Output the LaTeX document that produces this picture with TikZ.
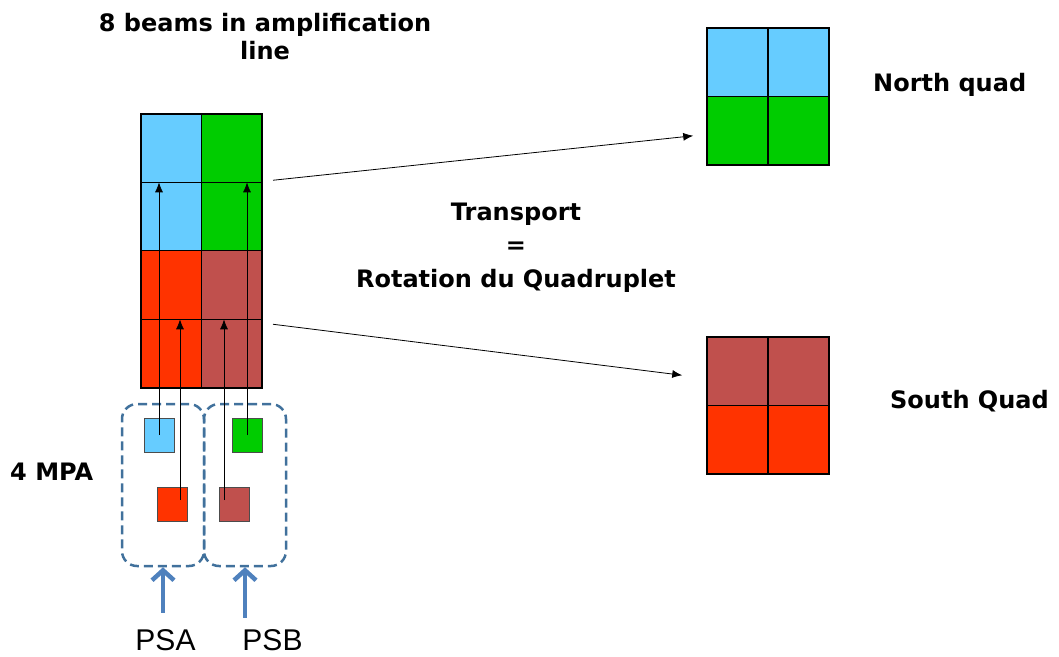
\documentclass[tikz,border=0pt]{standalone}
\usepackage{fontspec}
\setmainfont{Liberation Sans}
\newfontfamily\labelfont{DejaVu Sans}
\usetikzlibrary{arrows.meta}
\definecolor{beamblue}{HTML}{66CCFF}
\definecolor{beamgreen}{HTML}{00CC00}
\definecolor{beamred}{HTML}{FF3300}
\definecolor{beambrown}{HTML}{C0504D}
\definecolor{boxblue}{HTML}{41719C}
\definecolor{feedblue}{HTML}{4F81BD}
\tikzset{
  cell/.style={draw, line width=0.8pt, minimum width=60.5pt, minimum height=68.5pt, inner sep=0pt, outer sep=0pt},
  mpa/.style={draw=black!70, line width=0.6pt, minimum width=30pt, minimum height=34pt, inner sep=0pt},
  group/.style={draw=boxblue, line width=2.5pt, dash pattern=on 9pt off 5pt, rounded corners=15pt, minimum width=82pt, minimum height=162pt},
  beam/.style={line width=0.8pt, -{Latex[length=10pt,width=8pt]}},
  feed/.style={draw=feedblue, line width=4.5pt, -{Straight Barb[length=10pt,width=22pt]}},
  bold/.style={font=\labelfont\bfseries\fontsize{24}{28}\selectfont, inner sep=0pt},
}
\begin{document}
\begin{tikzpicture}[x=1pt,y=-1pt]
\useasboundingbox (0,0) rectangle (1059,656);
% amplification line
\node[cell, fill=beamblue] (b0) at (171.25,148){};
\node[cell, fill=beamgreen] (b1) at (231.75,148){};
\node[cell, fill=beamblue] (b2) at (171.25,216.5){};
\node[cell, fill=beamgreen] (b3) at (231.75,216.5){};
\node[cell, fill=beamred] (b4) at (171.25,285){};
\node[cell, fill=beambrown] (b5) at (231.75,285){};
\node[cell, fill=beamred] (b6) at (171.25,353.5){};
\node[cell, fill=beambrown] (b7) at (231.75,353.5){};
\draw[line width=2.4pt] (b0.north west) rectangle (b7.south east);
% north quad
\node[cell, fill=beamblue] (n0) at (737.5,62.25){};
\node[cell, fill=beamblue] (n1) at (798.5,62.25){};
\node[cell, fill=beamgreen] (n2) at (737.5,130.75){};
\node[cell, fill=beamgreen] (n3) at (798.5,130.75){};
\draw[line width=2.4pt] (n0.north west) rectangle (n3.south east);
% south quad
\node[cell, fill=beambrown] (s0) at (737.5,371.25){};
\node[cell, fill=beambrown] (s1) at (798.5,371.25){};
\node[cell, fill=beamred] (s2) at (737.5,439.75){};
\node[cell, fill=beamred] (s3) at (798.5,439.75){};
\draw[line width=2.4pt] (s0.north west) rectangle (s3.south east);
% MPA
\node[group] (psa) at (163,485){};
\node[group] (psb) at (245,485){};
\node[mpa, fill=beamblue] (m0) at (159,435){};
\node[mpa, fill=beamgreen] (m1) at (247,435){};
\node[mpa, fill=beamred] (m2) at (172.5,504.5){};
\node[mpa, fill=beambrown] (m3) at (234,504.5){};
\coordinate (p2) at ([xshift=7.5pt,yshift=4.5pt]m2.center);
\coordinate (p3) at ([xshift=-10pt,yshift=4.5pt]m3.center);
\draw[beam] (m0.center) -- (m0.center |- b2.north);
\draw[beam] (m1.center) -- (m1.center |- b3.north);
\draw[beam] (p2) -- (p2 |- b6.north);
\draw[beam] (p3) -- (p3 |- b7.north);
% transport
\draw[beam] ([xshift=11pt,yshift=2pt]b3.north east) -- ([xshift=-14pt,yshift=-5pt]n2.west);
\draw[beam] ([xshift=11pt,yshift=-5pt]b7.north east) -- ([xshift=-25pt,yshift=-4pt]s0.west);
% labels
\node[bold, align=center, anchor=base] (title) at (265,59){8 beams in amplification\\line};
\node[bold, align=center, anchor=base] (transport) at (516,287){Transport\\[5.5pt]=\\[5.5pt]Rotation du Quadruplet};
\node[bold, anchor=base west] (mpalabel) at (10,480){4 MPA};
\node[bold, anchor=base west] (north) at (873,91){North quad};
\node[bold, anchor=base west] (south) at (890,408){South Quad};
\node[font=\fontsize{30}{34}\selectfont, inner sep=0pt, anchor=base] (lpsa) at (165.5,650){PSA};
\node[font=\fontsize{30}{34}\selectfont, inner sep=0pt, anchor=base] (lpsb) at (272.5,650){PSB};
\draw[feed] ([yshift=16pt]lpsa.north -| psa.south) -- (psa.south);
\draw[feed] ([yshift=11pt]lpsb.north -| psb.south) -- (psb.south);
\end{tikzpicture}
\end{document}
